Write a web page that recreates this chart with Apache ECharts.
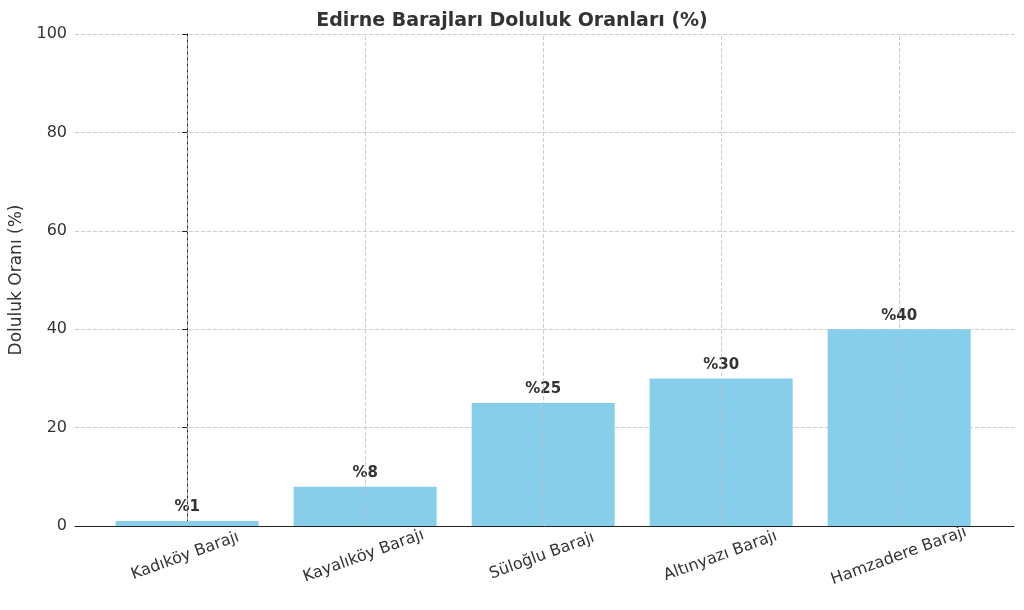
<!DOCTYPE html>
<html><head><meta charset="utf-8">
<script src="https://cdn.jsdelivr.net/npm/echarts@6/dist/echarts.min.js"></script>
<style>html,body{margin:0;padding:0;background:#fff}#c{width:1024px;height:610px}</style>
</head><body><div id="c"></div>
<script>
const categories = ["Kadıköy Barajı", "Kayalıköy Barajı", "Süloğlu Barajı", "Altınyazı Barajı", "Hamzadere Barajı"];
const values = [1, 8, 25, 30, 40];
const font = "DejaVu Sans";
const chart = echarts.init(document.getElementById("c"));
chart.setOption({
  animation: false,
  textStyle: { fontFamily: font },
  title: { text: "Edirne Barajları Doluluk Oranları (%)", left: "center", top: 7,
    textStyle: { fontFamily: font, fontSize: 19, fontWeight: "bold", color: "#333" } },
  grid: [{ left: 72, right: 10, top: 34, bottom: 84 },
         { left: 96, right: 36, top: 34, bottom: 84 }],
  xAxis: [{ type: "value", gridIndex: 0, min: -0.63, max: 4.645,
    axisLine: { lineStyle: { color: "#222" } },
    axisTick: { show: false }, axisLabel: { show: false }, splitLine: { show: false } },
  { type: "category", gridIndex: 1, data: categories,
    axisLine: { show: false },
    axisTick: { alignWithLabel: true, length: 5, lineStyle: { color: "#222" } },
    axisLabel: { rotate: 20, fontSize: 16, color: "#333", margin: 30, align: "center", verticalAlign: "middle" },
    splitLine: { show: false } }],
  yAxis: [{ type: "value", gridIndex: 0, min: 0, max: 100, interval: 20,
    name: "Doluluk Oranı (%)", nameLocation: "middle", nameGap: 50,
    nameTextStyle: { fontSize: 17, color: "#333" },
    axisLine: { show: true, lineStyle: { color: "#222" } },
    axisTick: { show: true, length: 5, lineStyle: { color: "#222" } },
    axisLabel: { fontSize: 16, color: "#333" },
    splitLine: { lineStyle: { type: "dashed", color: "#ccc" } } },
  { type: "value", gridIndex: 1, min: 0, max: 100, show: false }],
  series: [{
    type: "bar", xAxisIndex: 0, yAxisIndex: 0,
    data: values.map((v, i) => [i, v]), barWidth: 143,
    itemStyle: { color: "#87CEEB" },
    label: { show: true, position: "top", formatter: p => "%" + p.value[1],
      fontSize: 15, fontWeight: "bold", color: "#333", distance: 6 },
    markLine: { silent: true, symbol: "none", label: { show: false },
      lineStyle: { type: "dashed", color: "#bbb", width: 1, opacity: 0.7 },
      data: categories.map((c, i) => ({ xAxis: i })) }
  }]
});
</script></body></html>
